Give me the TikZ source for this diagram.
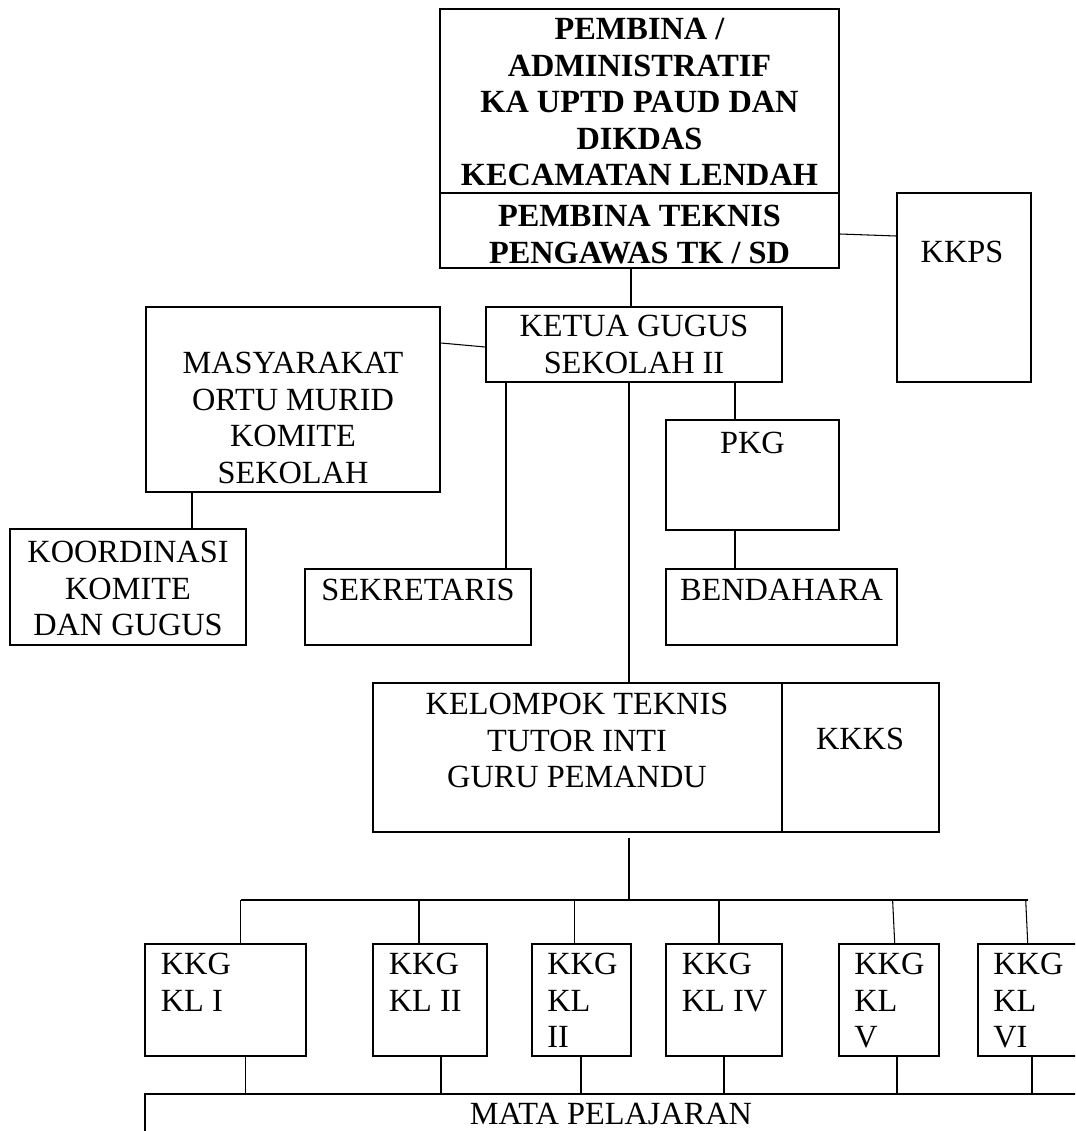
\documentclass[tikz,border=0pt]{standalone}
\usepackage{fontspec}
\setmainfont{Liberation Serif}
\usetikzlibrary{fit}
\newcommand{\orgfont}{\fontsize{18.4}{20.8}\selectfont}

\begin{document}
\begin{tikzpicture}[
        x=0.02cm, y=-0.02cm,
        box/.style={draw, line width=1pt, inner sep=0pt},
        link/.style={line width=0.6pt},
        txt/.style={font=\orgfont, align=center, inner sep=0pt, anchor=north},
        bold/.style={txt, font=\orgfont\bfseries},
        kkgtxt/.style={font=\orgfont, align=left, inner sep=0pt, anchor=north west}
    ]
        \useasboundingbox (0,0) rectangle (1075,1131);
        \clip (0,0) rectangle (1075,1131);

        \node[box, fit={(440,9) (839,268)}] (pembina) {};
        \draw[box] (pembina.west |- 0,193) -- (pembina.east |- 0,193);
        \node[bold] (pembinatxt) at (639.5,18) {PEMBINA /\\ADMINISTRATIF\\KA UPTD PAUD DAN\\DIKDAS\\KECAMATAN LENDAH};
        \node[bold] (teknistxt) at (639.5,205) {PEMBINA TEKNIS\\PENGAWAS TK / SD};

        \node[box, fit={(897,193) (1031,382)}] (kkps) {};
        \node[txt] (kkpstxt) at (962,241) {KKPS};

        \node[box, fit={(486,307) (782,382)}] (ketua) {};
        \node[txt] (ketuatxt) at (634,315) {KETUA GUGUS\\SEKOLAH II};

        \node[box, fit={(146,307) (440,492)}] (masy) {};
        \node[txt] (masytxt) at (293,352) {MASYARAKAT\\ORTU MURID\\KOMITE\\SEKOLAH};

        \node[box, fit={(10,529) (246,645)}] (koord) {};
        \node[txt] (koordtxt) at (128,541) {KOORDINASI\\KOMITE\\DAN GUGUS};

        \node[box, fit={(305,569) (531,645)}] (sekr) {};
        \node[txt] (sekrtxt) at (418,579) {SEKRETARIS};

        \node[box, fit={(666,420) (839,530)}] (pkg) {};
        \node[txt] (pkgtxt) at (752.5,432) {PKG};

        \node[box, fit={(666,569) (897,645)}] (bend) {};
        \node[txt] (bendtxt) at (781.5,579) {BENDAHARA};

        \node[box, fit={(373,683) (939,832)}] (kel) {};
        \draw[box] (782,0 |- kel.north) -- (782,0 |- kel.south);
        \node[txt] (keltxt) at (577,693) {KELOMPOK TEKNIS\\TUTOR INTI\\GURU PEMANDU};
        \node[txt] (kkkstxt) at (860,728) {KKKS};

        \node[box, fit={(145,944) (306,1056)}] (kkg1) {};
        \node[box, fit={(373,944) (487,1056)}] (kkg2) {};
        \node[box, fit={(532,944) (631,1056)}] (kkg3) {};
        \node[box, fit={(666,944) (782,1056)}] (kkg4) {};
        \node[box, fit={(839,944) (939,1056)}] (kkg5) {};
        \node[box, fit={(978,944) (1090,1056)}] (kkg6) {};
        \node[kkgtxt] (kkg1txt) at (160.5,953) {KKG\\KL I};
        \node[kkgtxt] (kkg2txt) at (388.5,953) {KKG\\KL II};
        \node[kkgtxt] (kkg3txt) at (547,953) {KKG\\KL\\II};
        \node[kkgtxt] (kkg4txt) at (681.5,953) {KKG\\KL IV};
        \node[kkgtxt] (kkg5txt) at (854,953) {KKG\\KL\\V};
        \node[kkgtxt] (kkg6txt) at (993,953) {KKG\\KL\\VI};

        \node[box, fit={(145,1094) (1095,1145)}] (mata) {};
        \node[txt] (matatxt) at (611,1103) {MATA PELAJARAN};

        \draw[link] (pembina.east |- 0,234) -- (kkps.west |- 0,236);
        \draw[link] (631,0 |- pembina.south) -- (631,0 |- ketua.north);
        \draw[link] (masy.east |- 0,343) -- (ketua.west |- 0,347);
        \draw[link] (192,0 |- masy.south) -- (192,0 |- koord.north);
        \draw[link] (506,0 |- ketua.south) -- (506,0 |- sekr.north);
        \draw[link] (735,0 |- ketua.south) -- (735,0 |- pkg.north);
        \draw[link] (735,0 |- pkg.south) -- (735,0 |- bend.north);
        \draw[link] (629,0 |- ketua.south) -- (629,0 |- kel.north);

        \coordinate (busl) at (240.6,900);
        \coordinate (busr) at (1027.7,900);
        \draw[link, shorten <=0.1cm] (629,0 |- kel.south) -- (629,0 |- busl);
        \draw[link] (busl) -- (busr);
        \draw[link] (busl) -- (240.6,0 |- kkg1.north);
        \draw[link] (419,0 |- busl) -- (419,0 |- kkg2.north);
        \draw[link] (574.5,0 |- busl) -- (574.5,0 |- kkg3.north);
        \draw[link] (719,0 |- busl) -- (719,0 |- kkg4.north);
        \draw[link] (892.6,0 |- busl) -- (894.7,0 |- kkg5.north);
        \draw[link] (1025.7,0 |- busr) -- (1027.7,0 |- kkg6.north);

        \draw[link] (245.4,0 |- kkg1.south) -- (245.4,0 |- mata.north);
        \draw[link] (441,0 |- kkg2.south) -- (441,0 |- mata.north);
        \draw[link] (581,0 |- kkg3.south) -- (581,0 |- mata.north);
        \draw[link] (724,0 |- kkg4.south) -- (724,0 |- mata.north);
        \draw[link] (897,0 |- kkg5.south) -- (897,0 |- mata.north);
        \draw[link] (1032,0 |- kkg6.south) -- (1032,0 |- mata.north);
\end{tikzpicture}
\end{document}
